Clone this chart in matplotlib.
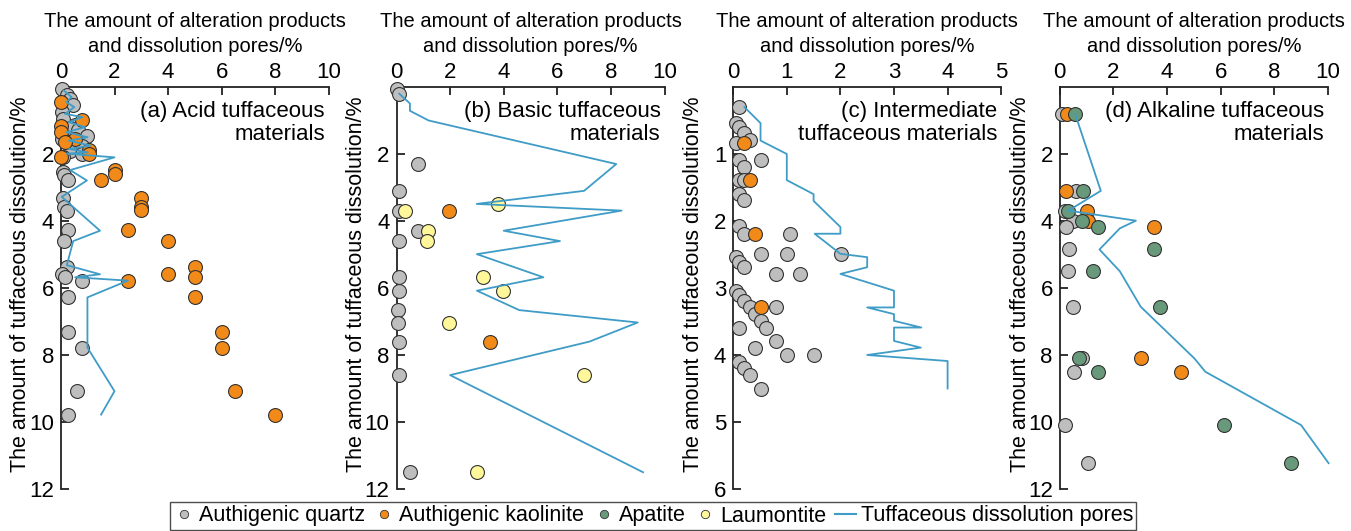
import matplotlib
matplotlib.use("Agg")
import matplotlib.pyplot as plt
from matplotlib.lines import Line2D

plt.rcParams["font.family"] = ["Liberation Sans", "DejaVu Sans"]

GREY = "#BEBEBE"
ORANGE = "#F28A1A"
GREEN = "#67997A"
YELLOW = "#FFF79A"
BLUE = "#3F9CC6"

# ---------------- (a) Acid tuffaceous materials ----------------
a_quartz_x = [0.03, 0.22, 0.34, 0.47, 0.03, 0.09, 0.53, 0.34, 0.65, 0.96, 0.03, 0.34, 0.78, 0.34,
              0.78, 0.09, 0.09, 0.10, 0.28, 0.09, 0.10, 0.22, 0.28, 0.10, 0.22, 0.03, 0.15, 0.78,
              0.28, 0.28, 0.78, 0.59, 0.28]
a_quartz_y = [0.05, 0.25, 0.35, 0.55, 0.75, 0.95, 1.12, 1.22, 1.28, 1.45, 1.55, 1.65, 1.75, 1.92,
              2.00, 2.09, 2.54, 2.64, 2.78, 3.32, 3.58, 3.70, 4.28, 4.60, 5.38, 5.58, 5.68, 5.78,
              6.28, 7.30, 7.78, 9.08, 9.78]
a_kaol_x = [0.0, 0.78, 0.0, 0.0, 0.53, 0.15, 1.03, 1.03, 0.0, 2.0, 2.0, 1.5, 3.0, 3.0, 3.0, 2.5,
            4.0, 5.0, 4.0, 5.0, 2.5, 5.0, 6.0, 6.0, 6.5, 8.0]
a_kaol_y = [0.45, 0.98, 1.15, 1.34, 1.55, 1.65, 1.89, 1.99, 2.10, 2.49, 2.59, 2.79, 3.30, 3.58,
            3.68, 4.28, 4.60, 5.38, 5.58, 5.68, 5.78, 6.28, 7.30, 7.78, 9.08, 9.78]
a_pore_x = [0.1, 0.4, 0.2, 0.5, 0.15, 0.8, 0.3, 0.9, 0.2, 1.0, 0.3, 1.1, 0.3, 1.0, 0.22, 2.0,
            0.34, 0.97, 0.03, 1.46, 0.46, 0.22, 1.46, 0.53, 2.5, 0.99, 0.99, 2.0, 1.5]
a_pore_y = [0.1, 0.3, 0.45, 0.6, 0.8, 0.9, 1.05, 1.2, 1.35, 1.5, 1.6, 1.75, 1.85, 1.95, 1.99,
            2.1, 2.48, 2.79, 3.28, 4.29, 4.6, 5.32, 5.59, 5.68, 5.78, 6.28, 7.78, 9.08, 9.78]

# ---------------- (b) Basic tuffaceous materials ----------------
b_quartz_x = [0.0, 0.1, 0.81, 0.1, 0.1, 0.81, 0.1, 0.1, 0.1, 0.06, 0.06, 0.1, 0.1, 0.5]
b_quartz_y = [0.05, 0.2, 2.3, 3.1, 3.69, 4.29, 4.6, 5.68, 6.08, 6.66, 7.03, 7.6, 8.6, 11.48]
b_kaol_x = [1.97, 3.49]
b_kaol_y = [3.69, 7.6]
b_laum_x = [0.32, 3.78, 1.19, 1.13, 3.24, 3.98, 1.96, 7.0, 2.99]
b_laum_y = [3.69, 3.49, 4.29, 4.6, 5.68, 6.08, 7.03, 8.6, 11.48]
b_pore_x = [0.1, 0.5, 0.5, 1.2, 8.2, 7.0, 2.99, 8.4, 4.0, 6.1, 3.0, 5.48, 3.0, 4.58, 9.0, 7.2,
            2.0, 9.2]
b_pore_y = [0.2, 0.49, 0.71, 1.0, 2.3, 3.1, 3.49, 3.69, 4.29, 4.6, 4.99, 5.68, 6.08, 6.66, 7.03,
            7.6, 8.6, 11.5]

# ---------------- (c) Intermediate tuffaceous materials ----------------
c_quartz_x = [0.11, 0.05, 0.11, 0.21, 0.31, 0.05, 0.11, 0.52, 0.21, 0.11, 0.21, 0.11, 0.21, 0.11,
              0.21, 1.06, 0.52, 1.0, 2.01, 0.05, 0.11, 0.21, 0.8, 1.25, 0.05, 0.11, 0.21, 0.31,
              0.8, 0.41, 0.51, 0.11, 0.61, 0.8, 0.41, 1.01, 1.5, 0.11, 0.21, 0.31, 0.51]
c_quartz_y = [0.3, 0.54, 0.6, 0.69, 0.79, 0.84, 1.09, 1.09, 1.2, 1.39, 1.39, 1.59, 1.69, 2.08,
              2.19, 2.19, 2.49, 2.49, 2.49, 2.54, 2.61, 2.69, 2.79, 2.79, 3.04, 3.1, 3.19, 3.29,
              3.29, 3.39, 3.49, 3.59, 3.59, 3.79, 3.89, 4.0, 4.0, 4.1, 4.2, 4.3, 4.5]
c_kaol_x = [0.21, 0.32, 0.41, 0.51]
c_kaol_y = [0.84, 1.39, 2.19, 3.29]
c_pore_x = [0.21, 0.51, 0.51, 1.0, 1.0, 1.5, 1.5, 2.0, 2.0, 1.52, 2.0, 2.5, 2.5, 2.0, 3.0, 3.0,
            2.5, 3.0, 3.0, 3.51, 3.0, 3.0, 3.5, 2.5, 4.0, 4.0]
c_pore_y = [0.3, 0.54, 0.8, 1.0, 1.39, 1.6, 1.7, 2.09, 2.19, 2.19, 2.49, 2.54, 2.69, 2.79, 3.04,
            3.29, 3.29, 3.39, 3.49, 3.59, 3.59, 3.79, 3.89, 4.0, 4.09, 4.5]

# ---------------- (d) Alkaline tuffaceous materials ----------------
d_quartz_x = [0.1, 0.62, 0.2, 0.48, 0.23, 0.36, 0.32, 0.48, 0.81, 0.53, 0.19, 1.06]
d_quartz_y = [0.8, 3.1, 3.69, 3.99, 4.19, 4.85, 5.5, 6.56, 8.1, 8.5, 10.09, 11.23]
d_kaol_x = [0.26, 0.23, 1.03, 1.06, 3.52, 3.02, 4.52]
d_kaol_y = [0.8, 3.1, 3.69, 3.99, 4.19, 8.1, 8.5]
d_apat_x = [0.57, 0.85, 0.32, 0.82, 1.44, 3.52, 1.23, 3.75, 0.73, 1.44, 6.11, 8.64]
d_apat_y = [0.8, 3.1, 3.69, 3.99, 4.19, 4.85, 5.5, 6.56, 8.1, 8.5, 10.09, 11.23]
d_pore_x = [0.57, 1.53, 0.32, 2.84, 2.24, 1.48, 2.24, 3.02, 5.02, 5.43, 9.0, 10.03]
d_pore_y = [0.8, 3.1, 3.69, 3.99, 4.22, 4.85, 5.5, 6.56, 8.1, 8.5, 10.09, 11.23]

panels = [
    dict(title="(a) Acid tuffaceous\nmaterials", xmax=10, xticks=[0, 2, 4, 6, 8, 10],
         ymax=12, yticks=[2, 4, 6, 8, 10, 12], left=60.9, ylab_x=21,
         quartz=(a_quartz_x, a_quartz_y), kaol=(a_kaol_x, a_kaol_y),
         pores=(a_pore_x, a_pore_y)),
    dict(title="(b) Basic tuffaceous\nmaterials", xmax=10, xticks=[0, 2, 4, 6, 8, 10],
         ymax=12, yticks=[2, 4, 6, 8, 10, 12], left=396.5, ylab_x=356,
         quartz=(b_quartz_x, b_quartz_y), kaol=(b_kaol_x, b_kaol_y),
         laum=(b_laum_x, b_laum_y), pores=(b_pore_x, b_pore_y)),
    dict(title="(c) Intermediate\ntuffaceous materials", xmax=5, xticks=[0, 1, 2, 3, 4, 5],
         ymax=6, yticks=[1, 2, 3, 4, 5, 6], left=733.2, ylab_x=693,
         quartz=(c_quartz_x, c_quartz_y), kaol=(c_kaol_x, c_kaol_y),
         pores=(c_pore_x, c_pore_y)),
    dict(title="(d) Alkaline tuffaceous\nmaterials", xmax=10, xticks=[0, 2, 4, 6, 8, 10],
         ymax=12, yticks=[2, 4, 6, 8, 10, 12], left=1059.8, ylab_x=1020,
         quartz=(d_quartz_x, d_quartz_y), kaol=(d_kaol_x, d_kaol_y),
         apat=(d_apat_x, d_apat_y), pores=(d_pore_x, d_pore_y)),
]

W, H = 1351, 531
fig = plt.figure(figsize=(W / 100, H / 100), dpi=100)

TICK_FS = 16
LABEL_FS = 14.5
MS = 100
EDGE = "#333333"

for p in panels:
    ax = fig.add_axes([p["left"] / W, 1 - 489 / H, 268 / W, (489 - 87) / H])
    ax.set_xlim(0, p["xmax"])
    ax.set_ylim(p["ymax"], 0)
    ax.set_xticks(p["xticks"])
    ax.set_yticks(p["yticks"])
    ax.xaxis.tick_top()
    ax.xaxis.set_label_position("top")
    for s in ("right", "bottom"):
        ax.spines[s].set_visible(False)
    for s in ("top", "left"):
        ax.spines[s].set_linewidth(1.3)
        ax.spines[s].set_color("#222222")
    ax.tick_params(direction="in", length=6, width=1.3, labelsize=TICK_FS, pad=5,
                   color="#222222")
    ax.tick_params(axis="x", pad=3)
    ax.set_xlabel("The amount of alteration products\nand dissolution pores/%",
                  fontsize=LABEL_FS, labelpad=7, linespacing=1.4)
    fig.text(p["ylab_x"] / W, 1 - 284 / H, "The amount of tuffaceous dissolution/%",
             rotation=90, ha="center", va="center", fontsize=15.5)

    ax.scatter(*p["quartz"], s=MS, c=GREY, edgecolors=EDGE, linewidths=0.8, zorder=3,
               clip_on=False)
    ax.scatter(*p["kaol"], s=MS, c=ORANGE, edgecolors=EDGE, linewidths=0.8, zorder=3,
               clip_on=False)
    if "apat" in p:
        ax.scatter(*p["apat"], s=MS, c=GREEN, edgecolors=EDGE, linewidths=0.8, zorder=3,
                   clip_on=False)
    if "laum" in p:
        ax.scatter(*p["laum"], s=MS, c=YELLOW, edgecolors=EDGE, linewidths=0.8, zorder=3,
                   clip_on=False)
    ax.plot(*p["pores"], color=BLUE, lw=1.3, zorder=4, clip_on=False)

    ax.text(0.985, 0.965, p["title"], transform=ax.transAxes, ha="right", va="top",
            fontsize=16, linespacing=1.1, zorder=5)

handles = [
    Line2D([], [], ls="", marker="o", ms=6, mfc=GREY, mec=EDGE, mew=0.6),
    Line2D([], [], ls="", marker="o", ms=6, mfc=ORANGE, mec=EDGE, mew=0.6),
    Line2D([], [], ls="", marker="o", ms=6, mfc=GREEN, mec=EDGE, mew=0.6),
    Line2D([], [], ls="", marker="o", ms=6, mfc=YELLOW, mec=EDGE, mew=0.6),
    Line2D([], [], color=BLUE, lw=1.5),
]
labels = ["Authigenic quartz", "Authigenic kaolinite", "Apatite", "Laumontite",
          "Tuffaceous dissolution pores"]
leg = fig.legend(handles, labels, loc="center", bbox_to_anchor=(653 / W, 1 - 516 / H),
                 ncol=5, fontsize=15.5, frameon=True, fancybox=False, edgecolor="#222222",
                 handlelength=1.0, handletextpad=0.2, columnspacing=0.4, borderpad=0.15,
                 borderaxespad=0)
leg.get_frame().set_linewidth(1.0)

fig.savefig("out.png", dpi=100)
